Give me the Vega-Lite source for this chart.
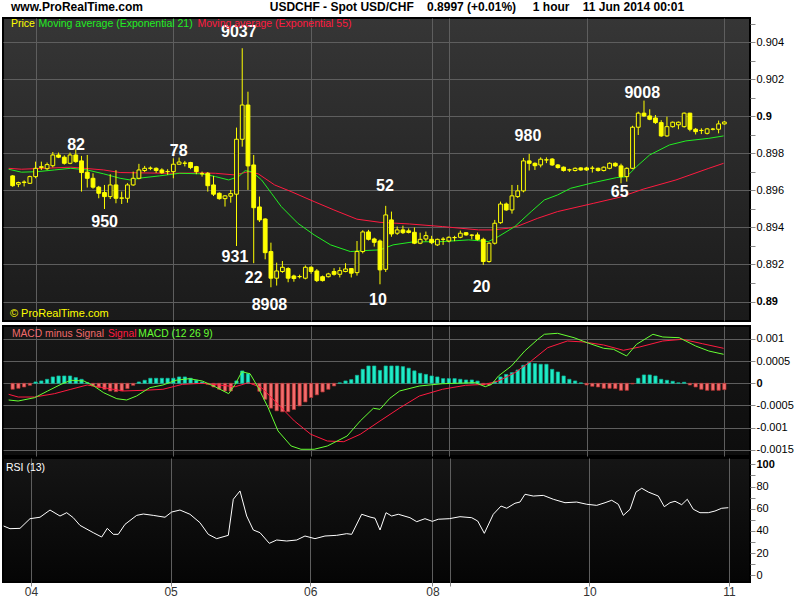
{
"$schema":"https://vega.github.io/schema/vega-lite/v6.json",
"background":"white",
"padding":{"left":2,"top":0,"right":0,"bottom":0},
"title":{"text":"www.ProRealTime.com\u00a0\u00a0\u00a0\u00a0\u00a0\u00a0\u00a0\u00a0\u00a0\u00a0\u00a0\u00a0\u00a0\u00a0\u00a0\u00a0\u00a0\u00a0\u00a0\u00a0\u00a0\u00a0\u00a0\u00a0\u00a0\u00a0\u00a0\u00a0\u00a0\u00a0\u00a0\u00a0\u00a0\u00a0\u00a0\u00a0\u00a0\u00a0USDCHF - Spot USD/CHF\u00a0\u00a0\u00a0\u00a00.8997 (+0.01%)\u00a0\u00a0\u00a0\u00a0\u00a01 hour\u00a0\u00a0\u00a0\u00a011 Jun 2014 00:01","anchor":"start","frame":"group","fontSize":12,"fontWeight":"bold","font":"Liberation Sans","color":"#000","offset":3,"dx":8},
"config":{
 "view":{"stroke":"#000","strokeWidth":2},
 "axis":{"gridColor":"#5e5e5e","gridWidth":1,"domain":false,"tickColor":"#8a8a8a","tickSize":5,"labelFont":"Liberation Sans","labelFontSize":11,"labelColor":"#000","labelPadding":1,"labelOverlap":false},
 "text":{"font":"Liberation Sans"}
},
"datasets":{
"candles":[
{"i":-4,"o":0.89679,"h":0.89683,"l":0.89620,"c":0.89626},
{"i":-3,"o":0.89634,"h":0.89648,"l":0.89618,"c":0.89643},
{"i":-2,"o":0.89643,"h":0.89655,"l":0.89622,"c":0.89646},
{"i":-1,"o":0.89639,"h":0.89680,"l":0.89635,"c":0.89675},
{"i":0,"o":0.89675,"h":0.89756,"l":0.89666,"c":0.89720},
{"i":1,"o":0.89724,"h":0.89756,"l":0.89711,"c":0.89729},
{"i":2,"o":0.89718,"h":0.89751,"l":0.89710,"c":0.89740},
{"i":3,"o":0.89734,"h":0.89808,"l":0.89725,"c":0.89792},
{"i":4,"o":0.89792,"h":0.89805,"l":0.89775,"c":0.89780},
{"i":5,"o":0.89780,"h":0.89790,"l":0.89740,"c":0.89747},
{"i":6,"o":0.89747,"h":0.89805,"l":0.89742,"c":0.89792},
{"i":7,"o":0.89792,"h":0.89823,"l":0.89750,"c":0.89756},
{"i":8,"o":0.89760,"h":0.89787,"l":0.89594,"c":0.89697},
{"i":9,"o":0.89699,"h":0.89792,"l":0.89616,"c":0.89666},
{"i":10,"o":0.89666,"h":0.89693,"l":0.89610,"c":0.89618},
{"i":11,"o":0.89618,"h":0.89625,"l":0.89558,"c":0.89585},
{"i":12,"o":0.89589,"h":0.89630,"l":0.89500,"c":0.89567},
{"i":13,"o":0.89567,"h":0.89688,"l":0.89554,"c":0.89630},
{"i":14,"o":0.89630,"h":0.89710,"l":0.89531,"c":0.89558},
{"i":15,"o":0.89558,"h":0.89594,"l":0.89527,"c":0.89560},
{"i":16,"o":0.89558,"h":0.89640,"l":0.89534,"c":0.89630},
{"i":17,"o":0.89630,"h":0.89702,"l":0.89625,"c":0.89666},
{"i":18,"o":0.89666,"h":0.89744,"l":0.89660,"c":0.89711},
{"i":19,"o":0.89708,"h":0.89733,"l":0.89700,"c":0.89720},
{"i":20,"o":0.89720,"h":0.89730,"l":0.89710,"c":0.89721},
{"i":21,"o":0.89720,"h":0.89725,"l":0.89695,"c":0.89708},
{"i":22,"o":0.89711,"h":0.89720,"l":0.89690,"c":0.89696},
{"i":23,"o":0.89702,"h":0.89715,"l":0.89685,"c":0.89703},
{"i":24,"o":0.89702,"h":0.89774,"l":0.89666,"c":0.89742},
{"i":25,"o":0.89742,"h":0.89778,"l":0.89740,"c":0.89754},
{"i":26,"o":0.89747,"h":0.89760,"l":0.89730,"c":0.89748},
{"i":27,"o":0.89751,"h":0.89755,"l":0.89715,"c":0.89724},
{"i":28,"o":0.89729,"h":0.89733,"l":0.89688,"c":0.89702},
{"i":29,"o":0.89690,"h":0.89702,"l":0.89675,"c":0.89691},
{"i":30,"o":0.89693,"h":0.89700,"l":0.89594,"c":0.89626},
{"i":31,"o":0.89630,"h":0.89679,"l":0.89570,"c":0.89580},
{"i":32,"o":0.89585,"h":0.89590,"l":0.89550,"c":0.89556},
{"i":33,"o":0.89556,"h":0.89575,"l":0.89513,"c":0.89571},
{"i":34,"o":0.89569,"h":0.89603,"l":0.89534,"c":0.89583},
{"i":35,"o":0.89580,"h":0.89940,"l":0.89300,"c":0.89877},
{"i":36,"o":0.89877,"h":0.90369,"l":0.89837,"c":0.90062},
{"i":37,"o":0.90062,"h":0.90134,"l":0.89603,"c":0.89733},
{"i":38,"o":0.89738,"h":0.89792,"l":0.89207,"c":0.89507},
{"i":39,"o":0.89511,"h":0.89567,"l":0.89430,"c":0.89441},
{"i":40,"o":0.89446,"h":0.89450,"l":0.89228,"c":0.89264},
{"i":41,"o":0.89270,"h":0.89318,"l":0.89077,"c":0.89126},
{"i":42,"o":0.89126,"h":0.89210,"l":0.89086,"c":0.89165},
{"i":43,"o":0.89162,"h":0.89219,"l":0.89155,"c":0.89185},
{"i":44,"o":0.89178,"h":0.89185,"l":0.89104,"c":0.89126},
{"i":45,"o":0.89138,"h":0.89145,"l":0.89107,"c":0.89124},
{"i":46,"o":0.89134,"h":0.89145,"l":0.89125,"c":0.89135},
{"i":47,"o":0.89126,"h":0.89195,"l":0.89120,"c":0.89185},
{"i":48,"o":0.89185,"h":0.89190,"l":0.89150,"c":0.89162},
{"i":49,"o":0.89165,"h":0.89175,"l":0.89105,"c":0.89113},
{"i":50,"o":0.89134,"h":0.89140,"l":0.89108,"c":0.89113},
{"i":51,"o":0.89134,"h":0.89155,"l":0.89130,"c":0.89149},
{"i":52,"o":0.89162,"h":0.89180,"l":0.89140,"c":0.89147},
{"i":53,"o":0.89147,"h":0.89185,"l":0.89130,"c":0.89167},
{"i":54,"o":0.89162,"h":0.89207,"l":0.89158,"c":0.89176},
{"i":55,"o":0.89178,"h":0.89180,"l":0.89130,"c":0.89153},
{"i":56,"o":0.89156,"h":0.89327,"l":0.89140,"c":0.89270},
{"i":57,"o":0.89270,"h":0.89385,"l":0.89260,"c":0.89376},
{"i":58,"o":0.89376,"h":0.89387,"l":0.89330,"c":0.89336},
{"i":59,"o":0.89338,"h":0.89345,"l":0.89297,"c":0.89320},
{"i":60,"o":0.89327,"h":0.89335,"l":0.89093,"c":0.89171},
{"i":61,"o":0.89174,"h":0.89517,"l":0.89160,"c":0.89468},
{"i":62,"o":0.89441,"h":0.89486,"l":0.89350,"c":0.89365},
{"i":63,"o":0.89369,"h":0.89405,"l":0.89360,"c":0.89387},
{"i":64,"o":0.89387,"h":0.89410,"l":0.89365,"c":0.89372},
{"i":65,"o":0.89382,"h":0.89395,"l":0.89368,"c":0.89373},
{"i":66,"o":0.89374,"h":0.89400,"l":0.89310,"c":0.89315},
{"i":67,"o":0.89315,"h":0.89372,"l":0.89310,"c":0.89336},
{"i":68,"o":0.89338,"h":0.89378,"l":0.89325,"c":0.89356},
{"i":69,"o":0.89336,"h":0.89355,"l":0.89310,"c":0.89318},
{"i":70,"o":0.89306,"h":0.89340,"l":0.89300,"c":0.89336},
{"i":71,"o":0.89336,"h":0.89348,"l":0.89306,"c":0.89337},
{"i":72,"o":0.89327,"h":0.89352,"l":0.89320,"c":0.89347},
{"i":73,"o":0.89345,"h":0.89355,"l":0.89326,"c":0.89346},
{"i":74,"o":0.89347,"h":0.89383,"l":0.89342,"c":0.89369},
{"i":75,"o":0.89372,"h":0.89375,"l":0.89355,"c":0.89360},
{"i":76,"o":0.89358,"h":0.89364,"l":0.89336,"c":0.89359},
{"i":77,"o":0.89360,"h":0.89373,"l":0.89330,"c":0.89336},
{"i":78,"o":0.89336,"h":0.89345,"l":0.89198,"c":0.89216},
{"i":79,"o":0.89216,"h":0.89320,"l":0.89210,"c":0.89315},
{"i":80,"o":0.89315,"h":0.89441,"l":0.89308,"c":0.89423},
{"i":81,"o":0.89426,"h":0.89540,"l":0.89420,"c":0.89527},
{"i":82,"o":0.89527,"h":0.89535,"l":0.89490,"c":0.89495},
{"i":83,"o":0.89495,"h":0.89630,"l":0.89475,"c":0.89571},
{"i":84,"o":0.89567,"h":0.89630,"l":0.89560,"c":0.89598},
{"i":85,"o":0.89598,"h":0.89776,"l":0.89590,"c":0.89760},
{"i":86,"o":0.89760,"h":0.89798,"l":0.89708,"c":0.89747},
{"i":87,"o":0.89747,"h":0.89752,"l":0.89711,"c":0.89734},
{"i":88,"o":0.89738,"h":0.89779,"l":0.89725,"c":0.89769},
{"i":89,"o":0.89765,"h":0.89779,"l":0.89748,"c":0.89766},
{"i":90,"o":0.89770,"h":0.89775,"l":0.89733,"c":0.89738},
{"i":91,"o":0.89738,"h":0.89743,"l":0.89718,"c":0.89724},
{"i":92,"o":0.89726,"h":0.89730,"l":0.89702,"c":0.89708},
{"i":93,"o":0.89711,"h":0.89718,"l":0.89700,"c":0.89712},
{"i":94,"o":0.89708,"h":0.89725,"l":0.89703,"c":0.89720},
{"i":95,"o":0.89722,"h":0.89726,"l":0.89706,"c":0.89711},
{"i":96,"o":0.89722,"h":0.89728,"l":0.89706,"c":0.89711},
{"i":97,"o":0.89720,"h":0.89733,"l":0.89697,"c":0.89721},
{"i":98,"o":0.89720,"h":0.89724,"l":0.89702,"c":0.89708},
{"i":99,"o":0.89708,"h":0.89730,"l":0.89703,"c":0.89726},
{"i":100,"o":0.89720,"h":0.89752,"l":0.89715,"c":0.89747},
{"i":101,"o":0.89747,"h":0.89752,"l":0.89728,"c":0.89733},
{"i":102,"o":0.89733,"h":0.89745,"l":0.89639,"c":0.89675},
{"i":103,"o":0.89675,"h":0.89725,"l":0.89648,"c":0.89720},
{"i":104,"o":0.89720,"h":0.89950,"l":0.89715,"c":0.89942},
{"i":105,"o":0.89942,"h":0.90026,"l":0.89900,"c":0.90018},
{"i":106,"o":0.90018,"h":0.90086,"l":0.89998,"c":0.90003},
{"i":107,"o":0.90003,"h":0.90039,"l":0.89980,"c":0.89985},
{"i":108,"o":0.89992,"h":0.90008,"l":0.89960,"c":0.89967},
{"i":109,"o":0.89967,"h":0.89980,"l":0.89890,"c":0.89895},
{"i":110,"o":0.89895,"h":0.89999,"l":0.89890,"c":0.89945},
{"i":111,"o":0.89945,"h":0.89973,"l":0.89940,"c":0.89969},
{"i":112,"o":0.89955,"h":0.89973,"l":0.89931,"c":0.89969},
{"i":113,"o":0.89945,"h":0.90022,"l":0.89940,"c":0.90018},
{"i":114,"o":0.90018,"h":0.90020,"l":0.89920,"c":0.89931},
{"i":115,"o":0.89931,"h":0.89938,"l":0.89903,"c":0.89918},
{"i":116,"o":0.89924,"h":0.89936,"l":0.89905,"c":0.89925},
{"i":117,"o":0.89909,"h":0.89938,"l":0.89903,"c":0.89933},
{"i":118,"o":0.89931,"h":0.89938,"l":0.89925,"c":0.89932},
{"i":119,"o":0.89931,"h":0.89978,"l":0.89909,"c":0.89960},
{"i":120,"o":0.89960,"h":0.89975,"l":0.89956,"c":0.89970}
],
"ema55":[
{"i":-4.7,"p":0.89720},{"i":-2.46,"p":0.89715},{"i":6.14,"p":0.89726},{"i":11.86,"p":0.89711},{"i":14.73,"p":0.89697},{"i":23.33,"p":0.89693},{"i":29.05,"p":0.89695},{"i":31.34,"p":0.89693},{"i":34.78,"p":0.89684},{"i":37.08,"p":0.89702},{"i":38.8,"p":0.89690},{"i":41.65,"p":0.89630},{"i":44.52,"p":0.89594},{"i":48.53,"p":0.89540},{"i":51.97,"p":0.89495},{"i":55.99,"p":0.89445},{"i":60.0,"p":0.89428},{"i":65.15,"p":0.89419},{"i":70.88,"p":0.89405},{"i":77.19,"p":0.89387},{"i":79.47,"p":0.89387},{"i":82.4,"p":0.89396},{"i":84.06,"p":0.89408},{"i":87.5,"p":0.89450},{"i":90.94,"p":0.89486},{"i":97.25,"p":0.89531},{"i":101.82,"p":0.89564},{"i":105.84,"p":0.89607},{"i":111.57,"p":0.89657},{"i":117.3,"p":0.89720},{"i":119.87,"p":0.89747}
],
"ema21":[
{"i":-4.7,"p":0.89715},{"i":-2.46,"p":0.89699},{"i":0.4,"p":0.89702},{"i":3.27,"p":0.89711},{"i":6.14,"p":0.89720},{"i":9.0,"p":0.89711},{"i":11.86,"p":0.89690},{"i":14.73,"p":0.89666},{"i":16.45,"p":0.89657},{"i":18.73,"p":0.89669},{"i":21.6,"p":0.89679},{"i":25.05,"p":0.89693},{"i":29.05,"p":0.89690},{"i":31.34,"p":0.89675},{"i":33.64,"p":0.89657},{"i":35.36,"p":0.89675},{"i":36.5,"p":0.89707},{"i":37.65,"p":0.89702},{"i":39.37,"p":0.89657},{"i":41.09,"p":0.89585},{"i":42.8,"p":0.89513},{"i":45.68,"p":0.89423},{"i":48.53,"p":0.89360},{"i":51.4,"p":0.89306},{"i":54.84,"p":0.89270},{"i":57.12,"p":0.89275},{"i":60.0,"p":0.89279},{"i":62.28,"p":0.89306},{"i":65.72,"p":0.89322},{"i":70.88,"p":0.89324},{"i":75.47,"p":0.89333},{"i":78.9,"p":0.89324},{"i":80.63,"p":0.89351},{"i":83.5,"p":0.89405},{"i":86.35,"p":0.89486},{"i":88.65,"p":0.89549},{"i":90.94,"p":0.89576},{"i":93.23,"p":0.89612},{"i":97.25,"p":0.89643},{"i":101.26,"p":0.89670},{"i":102.98,"p":0.89675},{"i":104.7,"p":0.89729},{"i":106.98,"p":0.89792},{"i":110.42,"p":0.89846},{"i":113.3,"p":0.89868},{"i":117.3,"p":0.89882},{"i":119.87,"p":0.89895}
],
"notes":[
{"t":"82","i":7.05,"p":0.89846},{"t":"950","i":12.03,"p":0.89430},{"t":"78","i":24.93,"p":0.89814},{"t":"9037","i":35.4,"p":0.90457},{"t":"931","i":34.73,"p":0.89241},{"t":"22","i":38.0,"p":0.89127},{"t":"8908","i":40.74,"p":0.88981},{"t":"52","i":60.86,"p":0.89625},{"t":"10","i":59.65,"p":0.89008},{"t":"20","i":77.7,"p":0.89079},{"t":"980","i":85.78,"p":0.89895},{"t":"9008","i":105.7,"p":0.90127},{"t":"65","i":101.77,"p":0.89592}
],
"hist":[
{"i":-4,"v":-0.000135},{"i":-3,"v":-0.000113},{"i":-2,"v":-0.000083},{"i":-1,"v":-0.000045},{"i":0,"v":0.00003},{"i":1,"v":0.000053},{"i":2,"v":0.00009},{"i":3,"v":0.000143},{"i":4,"v":0.000165},{"i":5,"v":0.000165},{"i":6,"v":0.000165},{"i":7,"v":0.000128},{"i":8,"v":0.00009},{"i":9,"v":0.000015},{"i":10,"v":-0.00006},{"i":11,"v":-0.000098},{"i":12,"v":-0.000135},{"i":13,"v":-0.000173},{"i":14,"v":-0.000188},{"i":15,"v":-0.000173},{"i":16,"v":-0.00012},{"i":17,"v":-0.000045},{"i":18,"v":0.00003},{"i":19,"v":0.000068},{"i":20,"v":0.000113},{"i":21,"v":0.000113},{"i":22,"v":0.000113},{"i":23,"v":0.000113},{"i":24,"v":0.000113},{"i":25,"v":0.000143},{"i":26,"v":0.000143},{"i":27,"v":0.000113},{"i":28,"v":0.000068},{"i":29,"v":0.00003},{"i":30,"v":-0.000023},{"i":31,"v":-0.000083},{"i":32,"v":-0.000135},{"i":33,"v":-0.000173},{"i":34,"v":-0.000173},{"i":35,"v":0.000053},{"i":36,"v":0.000278},{"i":37,"v":0.000218},{"i":38,"v":-0.00002},{"i":39,"v":-0.00018},{"i":40,"v":-0.00036},{"i":41,"v":-0.00056},{"i":42,"v":-0.00062},{"i":43,"v":-0.00064},{"i":44,"v":-0.00064},{"i":45,"v":-0.00059},{"i":46,"v":-0.00051},{"i":47,"v":-0.00042},{"i":48,"v":-0.00032},{"i":49,"v":-0.00026},{"i":50,"v":-0.000195},{"i":51,"v":-0.000135},{"i":52,"v":-0.00006},{"i":53,"v":0.00001},{"i":54,"v":0.000053},{"i":55,"v":0.000083},{"i":56,"v":0.00018},{"i":57,"v":0.000315},{"i":58,"v":0.00039},{"i":59,"v":0.00039},{"i":60,"v":0.00029},{"i":61,"v":0.00039},{"i":62,"v":0.00039},{"i":63,"v":0.00039},{"i":64,"v":0.000375},{"i":65,"v":0.00034},{"i":66,"v":0.00028},{"i":67,"v":0.000225},{"i":68,"v":0.0002},{"i":69,"v":0.000165},{"i":70,"v":0.000143},{"i":71,"v":0.000105},{"i":72,"v":0.000105},{"i":73,"v":0.000105},{"i":74,"v":0.00009},{"i":75,"v":0.000075},{"i":76,"v":0.000075},{"i":77,"v":0.00005},{"i":78,"v":-0.000038},{"i":79,"v":-0.000038},{"i":80,"v":0.000038},{"i":81,"v":0.000143},{"i":82,"v":0.0002},{"i":83,"v":0.00024},{"i":84,"v":0.0003},{"i":85,"v":0.000405},{"i":86,"v":0.000465},{"i":87,"v":0.000443},{"i":88,"v":0.000428},{"i":89,"v":0.000428},{"i":90,"v":0.000315},{"i":91,"v":0.000255},{"i":92,"v":0.000165},{"i":93,"v":0.00009},{"i":94,"v":0.000053},{"i":95,"v":0.00001},{"i":96,"v":-0.000038},{"i":97,"v":-0.000068},{"i":98,"v":-0.000083},{"i":99,"v":-0.000113},{"i":100,"v":-0.000113},{"i":101,"v":-0.00012},{"i":102,"v":-0.000158},{"i":103,"v":-0.000158},{"i":104,"v":-0.000015},{"i":105,"v":0.000113},{"i":106,"v":0.000188},{"i":107,"v":0.000188},{"i":108,"v":0.000165},{"i":109,"v":0.00009},{"i":110,"v":0.000068},{"i":111,"v":0.000045},{"i":112,"v":0.00001},{"i":113,"v":0.000023},{"i":114,"v":-0.000038},{"i":115,"v":-0.000083},{"i":116,"v":-0.000135},{"i":117,"v":-0.000158},{"i":118,"v":-0.000158},{"i":119,"v":-0.000158},{"i":120,"v":-0.000143}
],
"macd":[
{"i":-4.7,"v":-0.000376},{"i":-3.04,"v":-0.000399},{"i":-0.17,"v":-0.000324},{"i":2.11,"v":-0.000173},{"i":4.42,"v":-0.000023},{"i":6.14,"v":0.000068},{"i":8.42,"v":0.000052},{"i":10.14,"v":-0.000061},{"i":11.86,"v":-0.000212},{"i":14.15,"v":-0.000347},{"i":15.87,"v":-0.000376},{"i":17.59,"v":-0.000286},{"i":19.89,"v":-0.000099},{"i":22.18,"v":-0.000038},{"i":24.46,"v":0.000068},{"i":26.77,"v":0.000104},{"i":29.05,"v":0.000052},{"i":31.34,"v":-0.000083},{"i":33.64,"v":-0.000234},{"i":34.78,"v":-0.000023},{"i":35.93,"v":0.000261},{"i":37.36,"v":0.000216},{"i":38.8,"v":-0.000099},{"i":40.52,"v":-0.00055},{"i":42.24,"v":-0.001074},{"i":44.52,"v":-0.001412},{"i":46.24,"v":-0.001486},{"i":48.53,"v":-0.001486},{"i":50.83,"v":-0.001412},{"i":54.27,"v":-0.001187},{"i":56.56,"v":-0.000849},{"i":58.85,"v":-0.000563},{"i":60.0,"v":-0.000586},{"i":61.72,"v":-0.000338},{"i":63.43,"v":-0.000173},{"i":66.87,"v":-0.000061},{"i":70.88,"v":-0.000009},{"i":76.62,"v":0.000014},{"i":78.34,"v":-0.000077},{"i":79.47,"v":-0.000023},{"i":80.63,"v":0.000164},{"i":82.91,"v":0.00039},{"i":85.22,"v":0.000727},{"i":87.5,"v":0.000991},{"i":88.65,"v":0.001104},{"i":90.94,"v":0.001126},{"i":93.81,"v":0.001027},{"i":96.1,"v":0.000914},{"i":98.97,"v":0.000788},{"i":100.69,"v":0.000766},{"i":102.98,"v":0.000615},{"i":104.7,"v":0.000878},{"i":107.56,"v":0.001104},{"i":109.28,"v":0.001043},{"i":112.14,"v":0.001027},{"i":115.0,"v":0.00084},{"i":117.3,"v":0.000727},{"i":119.87,"v":0.000653}
],
"signal":[
{"i":-4.7,"v":-0.000248},{"i":-3.04,"v":-0.000309},{"i":-0.17,"v":-0.000309},{"i":3.27,"v":-0.000234},{"i":6.14,"v":-0.000135},{"i":8.99,"v":-0.000038},{"i":11.86,"v":-0.000099},{"i":15.3,"v":-0.000173},{"i":18.74,"v":-0.000158},{"i":22.18,"v":-0.000135},{"i":25.61,"v":-0.000023},{"i":29.05,"v":0},{"i":31.92,"v":-0.000038},{"i":34.78,"v":-0.000077},{"i":37.08,"v":0.000014},{"i":39.37,"v":-0.000099},{"i":42.24,"v":-0.000473},{"i":45.09,"v":-0.000849},{"i":47.96,"v":-0.001149},{"i":50.83,"v":-0.0013},{"i":53.69,"v":-0.001315},{"i":56.56,"v":-0.001149},{"i":60.0,"v":-0.000849},{"i":63.43,"v":-0.000556},{"i":66.87,"v":-0.000286},{"i":70.88,"v":-0.000135},{"i":74.9,"v":-0.000045},{"i":78.34,"v":-0.000023},{"i":80.63,"v":0.000052},{"i":83.5,"v":0.000239},{"i":86.35,"v":0.000502},{"i":89.22,"v":0.000802},{"i":92.66,"v":0.000953},{"i":95.53,"v":0.00093},{"i":98.97,"v":0.000863},{"i":102.41,"v":0.000743},{"i":105.26,"v":0.000818},{"i":109.28,"v":0.000953},{"i":112.72,"v":0.000991},{"i":116.16,"v":0.000892},{"i":119.87,"v":0.000788}
],
"rsi":[
{"i":-4.7,"r":44.4},{"i":-3.61,"r":42.0},{"i":-1.89,"r":42.3},{"i":-0.17,"r":51.0},{"i":1.55,"r":52.3},{"i":3.27,"r":58.8},{"i":4.99,"r":53.4},{"i":6.14,"r":56.4},{"i":7.27,"r":51.9},{"i":8.42,"r":45.0},{"i":10.71,"r":38.4},{"i":12.15,"r":34.5},{"i":13.12,"r":42.3},{"i":14.15,"r":36.9},{"i":15.0,"r":36.9},{"i":16.16,"r":45.9},{"i":18.17,"r":54.0},{"i":19.31,"r":55.2},{"i":21.02,"r":54.0},{"i":23.04,"r":52.3},{"i":24.19,"r":57.0},{"i":25.61,"r":58.8},{"i":27.33,"r":55.0},{"i":29.05,"r":47.4},{"i":30.48,"r":36.9},{"i":31.92,"r":33.0},{"i":33.92,"r":36.0},{"i":34.78,"r":68.5},{"i":35.93,"r":76.0},{"i":37.08,"r":53.4},{"i":38.22,"r":40.8},{"i":39.37,"r":38.4},{"i":40.97,"r":28.8},{"i":42.24,"r":31.8},{"i":43.96,"r":30.9},{"i":45.68,"r":31.8},{"i":47.1,"r":35.4},{"i":48.82,"r":33.0},{"i":50.54,"r":35.4},{"i":52.55,"r":36.0},{"i":54.27,"r":37.5},{"i":55.13,"r":36.9},{"i":56.85,"r":55.0},{"i":58.28,"r":52.5},{"i":59.14,"r":51.4},{"i":60.0,"r":40.8},{"i":61.03,"r":56.4},{"i":62.0,"r":53.4},{"i":63.14,"r":55.0},{"i":65.15,"r":51.9},{"i":66.31,"r":48.3},{"i":67.73,"r":51.0},{"i":68.99,"r":48.6},{"i":70.02,"r":50.5},{"i":71.91,"r":51.0},{"i":73.75,"r":52.8},{"i":75.76,"r":51.9},{"i":76.79,"r":48.9},{"i":77.93,"r":37.8},{"i":79.47,"r":55.0},{"i":80.8,"r":62.4},{"i":81.78,"r":60.4},{"i":83.2,"r":64.9},{"i":84.06,"r":66.0},{"i":84.92,"r":73.0},{"i":86.35,"r":71.4},{"i":88.07,"r":72.0},{"i":89.79,"r":68.5},{"i":91.8,"r":65.4},{"i":93.81,"r":66.0},{"i":95.53,"r":64.0},{"i":97.25,"r":63.0},{"i":98.68,"r":65.4},{"i":99.83,"r":67.6},{"i":100.96,"r":64.0},{"i":101.82,"r":54.0},{"i":102.98,"r":59.5},{"i":104.0,"r":75.0},{"i":104.99,"r":78.4},{"i":106.12,"r":75.0},{"i":107.84,"r":71.4},{"i":108.87,"r":61.8},{"i":109.85,"r":65.4},{"i":110.71,"r":66.7},{"i":111.86,"r":63.6},{"i":112.82,"r":68.5},{"i":113.85,"r":59.5},{"i":115.0,"r":56.4},{"i":116.43,"r":56.4},{"i":117.58,"r":57.9},{"i":118.74,"r":60.4},{"i":119.87,"r":60.9}
]
},
"spacing":3,
"vconcat":[
{
 "width":747,"height":303,
 "view":{"fill":{"gradient":"linear","x1":0,"y1":0,"x2":0,"y2":1,"stops":[{"offset":0,"color":"#363636"},{"offset":1,"color":"#1a1a1a"}]}},
 "encoding":{"x":{"field":"i","type":"quantitative","scale":{"domain":[-4.81,123.6],"nice":false,"zero":false},"axis":{"values":[0,24,48,69,72,96,120],"tickCount":50,"grid":true,"labels":false,"ticks":false,"domain":false,"title":null,"minExtent":0,"maxExtent":0}}},
 "layer":[
  {"data":{"name":"ema55"},"mark":{"type":"line","color":"#ff1a40","strokeWidth":1,"clip":true},
   "encoding":{"y":{"field":"p","type":"quantitative","scale":{"domain":[0.888946,0.905324],"nice":false,"zero":false},
     "axis":{"orient":"right","title":null,"tickCount":100,"values":[0.89,0.891,0.892,0.893,0.894,0.895,0.896,0.897,0.898,0.899,0.9,0.901,0.902,0.903,0.904,0.905],
       "gridOpacity":{"condition":{"test":"round(datum.value*1000)%2==1","value":0},"value":1},
       "labelExpr":"round(datum.value*1000)%2==0 ? format(datum.value,'~g') : ''",
       "labelFontWeight":{"condition":{"test":"round(datum.value*1000)%10==0","value":"bold"},"value":"normal"}}}}},
  {"data":{"name":"ema21"},"mark":{"type":"line","color":"#22ee22","strokeWidth":1,"clip":true},
   "encoding":{"y":{"field":"p","type":"quantitative","scale":{"domain":[0.888946,0.905324],"nice":false,"zero":false}}}},
  {"data":{"name":"candles"},"mark":{"type":"rule","color":"#ffff00","strokeWidth":1},
   "encoding":{"y":{"field":"l","type":"quantitative","scale":{"domain":[0.888946,0.905324],"nice":false,"zero":false}},"y2":{"field":"h"}}},
  {"data":{"name":"candles"},"mark":{"type":"bar","size":3.8,"stroke":"#ffff00","strokeWidth":1},
   "encoding":{"y":{"field":"o","type":"quantitative","scale":{"domain":[0.888946,0.905324],"nice":false,"zero":false}},"y2":{"field":"c"},
     "fill":{"condition":{"test":"datum.c > datum.o","value":"#262626"},"value":"#ffff00"}}},
  {"data":{"name":"notes"},"mark":{"type":"text","color":"#ffffff","fontSize":16,"fontWeight":"bold","align":"center","baseline":"middle"},
   "encoding":{"y":{"field":"p","type":"quantitative","scale":{"domain":[0.888946,0.905324],"nice":false,"zero":false}},"text":{"field":"t"}}},
  {"data":{"values":[{"i":-4.3,"p":0.905}]},"mark":{"type":"text","text":"Price","color":"#ffff00","fontSize":10.5,"align":"left","baseline":"middle"},
   "encoding":{"x":{"field":"i","type":"quantitative"},"y":{"field":"p","type":"quantitative","scale":{"domain":[0.888946,0.905324],"nice":false,"zero":false}}}},
  {"data":{"values":[{"i":0.52,"p":0.905}]},"mark":{"type":"text","text":"Moving average (Exponential 21)","color":"#22ee22","fontSize":10.5,"align":"left","baseline":"middle"},
   "encoding":{"x":{"field":"i","type":"quantitative"},"y":{"field":"p","type":"quantitative","scale":{"domain":[0.888946,0.905324],"nice":false,"zero":false}}}},
  {"data":{"values":[{"i":28.2,"p":0.905}]},"mark":{"type":"text","text":"Moving average (Exponential 55)","color":"#ff1a40","fontSize":10.5,"align":"left","baseline":"middle"},
   "encoding":{"x":{"field":"i","type":"quantitative"},"y":{"field":"p","type":"quantitative","scale":{"domain":[0.888946,0.905324],"nice":false,"zero":false}}}},
  {"data":{"values":[{"i":-4.47,"p":0.88933}]},"mark":{"type":"text","text":"© ProRealTime.com","color":"#ffff00","fontSize":11,"align":"left","baseline":"middle"},
   "encoding":{"x":{"field":"i","type":"quantitative"},"y":{"field":"p","type":"quantitative","scale":{"domain":[0.888946,0.905324],"nice":false,"zero":false}}}}
 ]
},
{"spacing":0,"vconcat":[
{
 "width":747,"height":130,
 "view":{"fill":{"gradient":"linear","x1":0,"y1":0,"x2":0,"y2":1,"stops":[{"offset":0,"color":"#171717"},{"offset":1,"color":"#0d0d0d"}]}},
 "encoding":{"x":{"field":"i","type":"quantitative","scale":{"domain":[-4.81,123.6],"nice":false,"zero":false},"axis":{"values":[0,24,48,69,72,96,120],"tickCount":50,"grid":true,"labels":false,"ticks":false,"domain":false,"title":null,"minExtent":0,"maxExtent":0}}},
 "layer":[
  {"data":{"name":"hist"},"mark":{"type":"bar","size":3.3,"strokeWidth":0.7},
   "encoding":{"y":{"field":"v","type":"quantitative","scale":{"domain":[-0.0016374,0.0012905],"nice":false,"zero":false},
     "axis":{"orient":"right","title":null,"tickCount":100,"values":[-0.0015,-0.001,-0.0005,0,0.0005,0.001],
       "labelExpr":"datum.value < 0 ? '-' + format(-datum.value,'~g') : format(datum.value,'~g')",
       "labelFontWeight":{"condition":{"test":"datum.value==0","value":"bold"},"value":"normal"}}},
    "y2":{"datum":0},
    "fill":{"condition":{"test":"datum.v >= 0","value":"#20ecc8"},"value":"#f26d6d"},
    "stroke":{"condition":{"test":"datum.v >= 0","value":"#0fb89a"},"value":"#b83030"}}},
  {"data":{"values":[{}]},"mark":{"type":"rule","color":"#3333ff","strokeWidth":1.5},"encoding":{"y":{"datum":0}}},
  {"data":{"name":"signal"},"mark":{"type":"line","color":"#ff1a40","strokeWidth":1,"clip":true},
   "encoding":{"y":{"field":"v","type":"quantitative","scale":{"domain":[-0.0016374,0.0012905],"nice":false,"zero":false}}}},
  {"data":{"name":"macd"},"mark":{"type":"line","color":"#66ff33","strokeWidth":1,"clip":true},
   "encoding":{"y":{"field":"v","type":"quantitative","scale":{"domain":[-0.0016374,0.0012905],"nice":false,"zero":false}}}},
  {"data":{"values":[{"i":-4.13,"v":0.00111}]},"mark":{"type":"text","text":"MACD minus Signal","color":"#f06a6a","fontSize":10.3,"align":"left","baseline":"middle"},
   "encoding":{"x":{"field":"i","type":"quantitative"},"y":{"field":"v","type":"quantitative","scale":{"domain":[-0.0016374,0.0012905],"nice":false,"zero":false}}}},
  {"data":{"values":[{"i":12.6,"v":0.00111}]},"mark":{"type":"text","text":"Signal","color":"#ff1a40","fontSize":10.3,"align":"left","baseline":"middle"},
   "encoding":{"x":{"field":"i","type":"quantitative"},"y":{"field":"v","type":"quantitative","scale":{"domain":[-0.0016374,0.0012905],"nice":false,"zero":false}}}},
  {"data":{"values":[{"i":17.9,"v":0.00111}]},"mark":{"type":"text","text":"MACD (12 26 9)","color":"#66ff33","fontSize":10.3,"align":"left","baseline":"middle"},
   "encoding":{"x":{"field":"i","type":"quantitative"},"y":{"field":"v","type":"quantitative","scale":{"domain":[-0.0016374,0.0012905],"nice":false,"zero":false}}}}
 ]
},
{
 "width":747,"height":124,
 "view":{"fill":{"gradient":"linear","x1":0,"y1":0,"x2":0,"y2":1,"stops":[{"offset":0,"color":"#151515"},{"offset":1,"color":"#050505"}]}},
 "encoding":{"x":{"field":"i","type":"quantitative","scale":{"domain":[-4.81,123.6],"nice":false,"zero":false},
   "axis":{"values":[0,24,48,69,72,96,120],"tickCount":50,"grid":true,"labels":true,"ticks":true,"tickSize":4,"domain":false,"title":null,"labelFontSize":12,"labelColor":"#333333","labelPadding":0,
     "labelExpr":"datum.value==0?'04':datum.value==24?'05':datum.value==48?'06':datum.value==69?'08':datum.value==96?'10':datum.value==120?'11':''"}}},
 "layer":[
  {"data":{"values":[{}]},"mark":{"type":"rule","color":"#ff0022","strokeWidth":1.5},
   "encoding":{"y":{"datum":50,"scale":{"domain":[-6.04,105.68],"nice":false,"zero":false},
     "axis":{"orient":"right","title":null,"tickCount":100,"values":[0,10,20,30,40,50,60,70,80,90,100],
       "gridOpacity":{"condition":{"test":"datum.value%20!=0","value":0},"value":1},
       "labelExpr":"datum.value%20==0 ? ''+datum.value : ''",
       "labelFontWeight":{"condition":{"test":"datum.value==100","value":"bold"},"value":"normal"}}}}},
  {"data":{"name":"rsi"},"mark":{"type":"line","color":"#ffffff","strokeWidth":1,"clip":true},
   "encoding":{"y":{"field":"r","type":"quantitative","scale":{"domain":[-6.04,105.68],"nice":false,"zero":false}}}},
  {"data":{"values":[{"i":-4.3,"r":96.7}]},"mark":{"type":"text","text":"RSI (13)","color":"#ffffff","fontSize":10.5,"align":"left","baseline":"middle"},
   "encoding":{"x":{"field":"i","type":"quantitative"},"y":{"field":"r","type":"quantitative","scale":{"domain":[-6.04,105.68],"nice":false,"zero":false}}}}
 ]
}
]}
]
}
